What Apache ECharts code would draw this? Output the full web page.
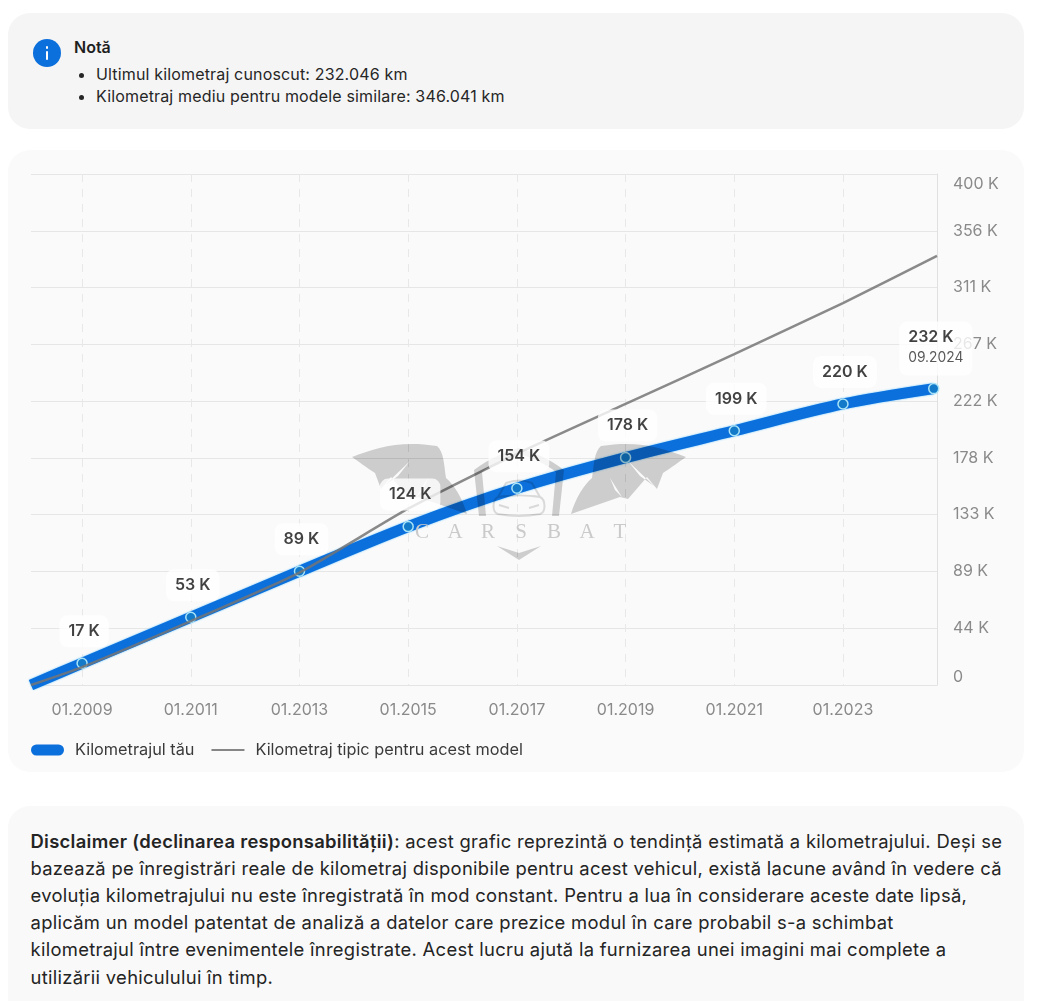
<!DOCTYPE html>
<html lang="ro">
<head>
<meta charset="utf-8">
<title>Kilometraj</title>
<script src="https://cdn.jsdelivr.net/npm/echarts@6/dist/echarts.min.js"></script>
<style>
  html,body{margin:0;padding:0;background:#fff;width:1038px;height:1001px;overflow:hidden;font-family:Inter,"Noto Sans",sans-serif;color:#1f1f1f;}
  .card{position:absolute;left:8px;width:1016px;border-radius:22px;box-sizing:border-box;}
  #note{top:13px;height:116px;background:#f5f5f5;}
  #chartCard{top:150px;height:622px;background:#fafafa;}
  #disc{top:806px;height:220px;background:#f9f9f9;padding:21.5px 0 0 22.5px;font-size:18.4px;letter-spacing:.3px;line-height:27.2px;color:#242424;white-space:nowrap;}
  #disc b{font-weight:600;}
  #icon{position:absolute;left:25px;top:26px;width:28px;height:28px;border-radius:50%;background:#0b6fdc;color:#fff;}
  #icon:before{content:"";position:absolute;left:12.7px;top:7px;width:2.8px;height:2.8px;border-radius:50%;background:#fff;}
  #icon:after{content:"";position:absolute;left:12.7px;top:12px;width:2.8px;height:9px;border-radius:1px;background:#fff;}
  #noteT{position:absolute;left:66px;top:24px;font-weight:600;font-size:16px;line-height:20px;}
  #note ul{position:absolute;left:66px;top:50px;margin:0;padding:0 0 0 22px;font-size:16px;letter-spacing:.16px;line-height:22px;white-space:nowrap;color:#262626;}
  #chart{position:absolute;left:0;top:150px;width:1038px;height:625px;}
</style>
</head>
<body>
<div class="card" id="note">
  <div id="icon"></div>
  <div id="noteT">Notă</div>
  <ul><li>Ultimul kilometraj cunoscut: 232.046 km</li><li>Kilometraj mediu pentru modele similare: 346.041 km</li></ul>
</div>
<div class="card" id="chartCard"></div>
<div id="chart"></div>
<div class="card" id="disc"><b>Disclaimer (declinarea responsabilității)</b>: acest grafic reprezintă o tendință estimată a kilometrajului. Deși se<br>bazează pe înregistrări reale de kilometraj disponibile pentru acest vehicul, există lacune având în vedere că<br>evoluția kilometrajului nu este înregistrată în mod constant. Pentru a lua în considerare aceste date lipsă,<br>aplicăm un model patentat de analiză a datelor care prezice modul în care probabil s-a schimbat<br>kilometrajul între evenimentele înregistrate. Acest lucru ajută la furnizarea unei imagini mai complete a<br>utilizării vehiculului în timp.</div>
<script>
const xMin = 2008.06, xMax = 2024.73;
const xTickYears = [2009, 2011, 2013, 2015, 2017, 2019, 2021, 2023];
const yourYears = [2009, 2011, 2013, 2015, 2017, 2019, 2021, 2023, 2024.67];
const yourKm = [17, 53, 89, 124, 154, 178, 199, 220, 232];
const typicalYears = [2008.06, 2009, 2011, 2013, 2015, 2017, 2019, 2021, 2023, 2024.73];
const typicalKm = [0, 14, 50, 88, 138, 181, 220, 259, 299, 336];
const yourName = 'Kilometrajul tău';
const typicalName = 'Kilometraj tipic pentru acest model';
const lastDate = '09.2024';
const FONT = 'Inter, "Noto Sans", sans-serif';
const WM = '#cdcdcd';

const wingPath = 'M352 457C375 448 400 440 437 446C444 452 444 465 446 478C454 485 462 497 467 514L418 497L410 499L391 477L381 489L375 473C367 468 358 461 352 457Z'
  + 'M410 461L384 486L398 476Z' + 'M428 478L416 497L423 490Z';
const shieldPath = 'M474 470C490 458 505 452 519 448L519 454C506 458 492 464 482 472L486 516L479 516Z';
const chevronPath = 'M497 546L519 553L519 560Z';
const carPath = 'M498 497L506 483C514 480 524 480 532 483L540 497C546 500 546 512 540 514C525 517 513 517 498 514C492 512 492 500 498 497ZM498 497C510 495 528 495 540 497M499 505L509 508M539 505L529 508';

echarts.graphic.registerShape('wmWing', echarts.graphic.extendPath(wingPath));
echarts.graphic.registerShape('wmShield', echarts.graphic.extendPath(shieldPath));
echarts.graphic.registerShape('wmChevron', echarts.graphic.extendPath(chevronPath));
echarts.graphic.registerShape('wmCar', echarts.graphic.extendPath(carPath));

function wmGroup(mirror) {
  const kids = ['wmWing', 'wmShield', 'wmChevron'].map(function (t) {
    return { type: t, z: 4, silent: true, style: { fill: WM, blend: 'multiply' } };
  });
  if (!mirror) {
    kids.push({ type: 'wmCar', z: 4, silent: true, style: { fill: 'none', stroke: '#d9d9d9', lineWidth: 2, blend: 'multiply' } });
  }
  return { type: 'group', x: mirror ? 1038 : 0, y: -150, scaleX: mirror ? -1 : 1, children: kids };
}

const chart = echarts.init(document.getElementById('chart'), null, { renderer: 'canvas' });
chart.setOption({
  animation: false,
  textStyle: { fontFamily: FONT },
  grid: { left: 31, right: 101, top: 24, height: 511, containLabel: false },
  legend: {
    left: 31, top: 592, padding: 0, itemWidth: 33, itemHeight: 11, itemGap: 17,
    textStyle: { fontFamily: FONT, fontSize: 16.3, color: '#3a3a3a', padding: [0, 0, 0, 6] },
    data: [
      { name: yourName, icon: 'path://M5.5 0H27.5A5.5 5.5 0 0 1 27.5 11H5.5A5.5 5.5 0 0 1 5.5 0Z',
        itemStyle: { color: '#0b6fdc', borderWidth: 0, shadowBlur: 0 } },
      { name: typicalName, icon: 'path://M0 0L0.01 0L0 0ZM0 4.5H33V6.5H0ZM33 11L32.99 11L33 11Z',
        itemStyle: { color: '#868686', opacity: 1 } }
    ]
  },
  xAxis: {
    type: 'value', min: xMin, max: xMax,
    axisLine: { show: true, lineStyle: { color: '#e4e4e4', width: 1 } },
    axisTick: { show: false, customValues: xTickYears },
    splitLine: { show: true, lineStyle: { color: '#e8e8e8', type: [8, 7], width: 1 } },
    axisLabel: { customValues: xTickYears, margin: 17, fontSize: 16, color: '#8a8a8a', fontFamily: FONT,
      formatter: function (v) { return '01.' + Math.round(v); } }
  },
  yAxis: {
    type: 'value', position: 'right', min: 0, max: 400, interval: 400 / 9,
    axisLine: { show: true, lineStyle: { color: '#e0e0e0', width: 1 } },
    axisTick: { show: false },
    splitLine: { show: true, lineStyle: { color: '#e6e6e6', width: 1 } },
    axisLabel: { margin: 16, fontSize: 16, color: '#8a8a8a', fontFamily: FONT, padding: [2, 0, 0, 0],
      verticalAlignMinLabel: 'bottom', verticalAlignMaxLabel: 'top',
      formatter: function (v) { return v === 0 ? '0' : Math.round(v) + ' K'; } }
  },
  graphic: { elements: [
    wmGroup(false), wmGroup(true),
    { type: 'group', x: 0, y: -150, children: ['C', 'A', 'R', 'S', 'B', 'A', 'T'].map(function (c, i) {
        return { type: 'text', z: 4, silent: true, x: 422 + i * 33, y: 532, style: { text: c, font: '21px "Liberation Serif", serif', fill: '#cacaca', textAlign: 'center', textVerticalAlign: 'middle', blend: 'multiply' } };
      }) }
  ] },
  series: [
    {
      name: yourName, type: 'line', z: 2, smooth: 0.3,
      data: [{ value: [xMin, 0], symbol: 'none' }].concat(yourYears.map(function (y, i) { return [y, yourKm[i]]; })),
      symbol: 'circle', symbolSize: 10, showAllSymbol: true,
      lineStyle: { color: '#0b6fdc', width: 11, cap: 'butt', shadowColor: '#5cc0ff', shadowBlur: 2 },
      itemStyle: { color: '#127ac9', borderColor: '#a9e3f7', borderWidth: 1.5 }
    },
    {
      name: typicalName, type: 'line', z: 3, smooth: 0.2, symbol: 'none',
      data: typicalYears.map(function (y, i) { return [y, typicalKm[i]]; }),
      lineStyle: { color: '#767676', width: 2.5, opacity: 0.85 }, itemStyle: { color: '#868686' }
    },
    {
      type: 'scatter', z: 5, silent: true, symbolSize: 0, legendHoverLink: false,
      data: yourYears.map(function (y, i) {
        const last = i === yourYears.length - 1;
        return { value: [y, yourKm[i]], label: { distance: last ? 13 : 16, offset: [2, 0] } };
      }),
      itemStyle: { color: 'transparent' },
      label: {
        show: true, position: 'top', backgroundColor: '#ffffff', borderRadius: 8, padding: [7, 9],
        formatter: function (p) {
          const t = '{a|' + yourKm[p.dataIndex] + ' K}';
          return p.dataIndex === yourYears.length - 1 ? t + '\n{b|' + lastDate + '}' : t;
        },
        rich: {
          a: { fontFamily: FONT, fontSize: 16, fontWeight: 600, color: '#111111', lineHeight: 18, align: 'left' },
          b: { fontFamily: FONT, fontSize: 13.8, color: '#2e2e2e', lineHeight: 22, align: 'left' }
        }
      }
    }
  ]
});
</script>
</body>
</html>
